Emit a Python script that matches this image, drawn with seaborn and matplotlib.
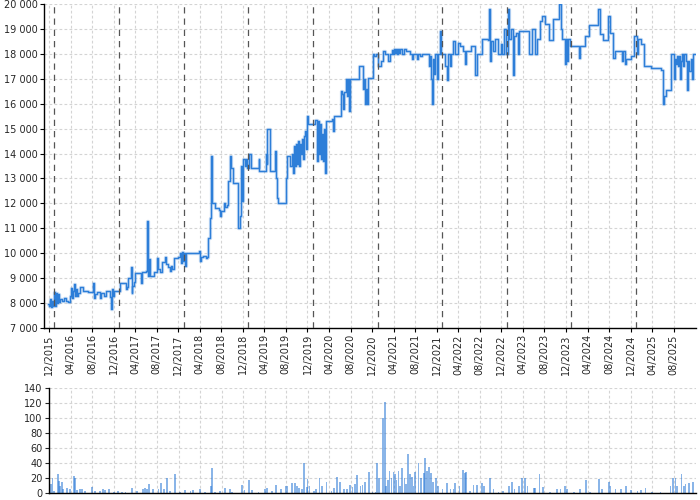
import matplotlib

matplotlib.use("Agg")
import matplotlib.pyplot as plt
import matplotlib.ticker as mticker
import numpy as np
import pandas as pd
import seaborn as sns

# Price history (step series).
price_dates = [
    "2015-11-27", "2015-12-01", "2015-12-07", "2015-12-12", "2015-12-18", "2015-12-23",
    "2016-01-01", "2016-01-04", "2016-01-09", "2016-01-15", "2016-01-20", "2016-01-26",
    "2016-02-01", "2016-02-12", "2016-02-23", "2016-03-06", "2016-03-17", "2016-03-28",
    "2016-04-03", "2016-04-09", "2016-04-14", "2016-04-20", "2016-04-25", "2016-05-01",
    "2016-05-06", "2016-05-12", "2016-05-23", "2016-06-09", "2016-07-07", "2016-08-06",
    "2016-08-09", "2016-08-17", "2016-08-28", "2016-09-14", "2016-09-19", "2016-10-07",
    "2016-10-18", "2016-11-12", "2016-11-15", "2016-11-20", "2016-11-26", "2016-12-02",
    "2017-01-06", "2017-02-04", "2017-02-09", "2017-02-15", "2017-02-20", "2017-03-09",
    "2017-03-12", "2017-03-14", "2017-03-26", "2017-03-31", "2017-04-29", "2017-05-04",
    "2017-05-10", "2017-06-01", "2017-06-07", "2017-06-10", "2017-06-12", "2017-06-18",
    "2017-06-23", "2017-07-16", "2017-08-02", "2017-08-08", "2017-08-19", "2017-08-30",
    "2017-09-16", "2017-09-22", "2017-10-03", "2017-10-14", "2017-10-20", "2017-10-25",
    "2017-11-06", "2017-11-28", "2017-12-10", "2017-12-15", "2017-12-21", "2017-12-26",
    "2018-01-03", "2018-01-08", "2018-01-14", "2018-03-28", "2018-04-02", "2018-04-08",
    "2018-04-19", "2018-05-06", "2018-05-11", "2018-05-17", "2018-05-28", "2018-06-03",
    "2018-06-08", "2018-06-25", "2018-07-18", "2018-07-23", "2018-07-29", "2018-08-15",
    "2018-08-21", "2018-09-02", "2018-09-10", "2018-09-19", "2018-09-24", "2018-10-06",
    "2018-11-06", "2018-11-14", "2018-11-20", "2018-11-25", "2018-12-02", "2018-12-13",
    "2018-12-19", "2018-12-24", "2019-01-05", "2019-01-16", "2019-02-28", "2019-03-02",
    "2019-04-11", "2019-04-16", "2019-04-19", "2019-04-30", "2019-05-02", "2019-05-31",
    "2019-06-06", "2019-06-12", "2019-06-17", "2019-08-02", "2019-08-07", "2019-08-27",
    "2019-09-05", "2019-09-10", "2019-09-16", "2019-09-22", "2019-09-27", "2019-10-03",
    "2019-10-08", "2019-10-14", "2019-10-19", "2019-10-25", "2019-10-30", "2019-11-06",
    "2019-11-11", "2019-11-17", "2019-11-22", "2019-11-28", "2019-12-05", "2020-01-14",
    "2020-01-25", "2020-02-01", "2020-02-06", "2020-02-12", "2020-02-17", "2020-02-23",
    "2020-02-28", "2020-03-05", "2020-03-11", "2020-03-17", "2020-04-20", "2020-04-26",
    "2020-05-01", "2020-06-06", "2020-06-15", "2020-06-20", "2020-06-26", "2020-07-07",
    "2020-07-12", "2020-07-18", "2020-07-23", "2020-07-29", "2020-09-15", "2020-10-06",
    "2020-10-11", "2020-10-16", "2020-10-22", "2020-10-28", "2020-11-03", "2020-11-08",
    "2020-12-04", "2020-12-12", "2020-12-23", "2021-01-05", "2021-01-22", "2021-02-02",
    "2021-02-13", "2021-03-02", "2021-03-13", "2021-03-24", "2021-03-30", "2021-04-04",
    "2021-04-10", "2021-04-15", "2021-04-21", "2021-04-26", "2021-05-02", "2021-05-07",
    "2021-05-18", "2021-05-29", "2021-06-10", "2021-07-02", "2021-07-13", "2021-07-19",
    "2021-08-11", "2021-08-16", "2021-08-27", "2021-09-09", "2021-10-18", "2021-10-24",
    "2021-10-29", "2021-11-05", "2021-11-10", "2021-11-16", "2021-11-21", "2021-12-03",
    "2021-12-08", "2021-12-20", "2021-12-25", "2022-01-19", "2022-01-25", "2022-02-01",
    "2022-02-12", "2022-02-17", "2022-03-05", "2022-03-16", "2022-04-01", "2022-04-12",
    "2022-04-29", "2022-05-10", "2022-05-16", "2022-06-13", "2022-07-06", "2022-07-17",
    "2022-08-15", "2022-09-17", "2022-09-23", "2022-09-28", "2022-10-04", "2022-10-15",
    "2022-10-26", "2022-11-12", "2022-11-29", "2022-12-06", "2022-12-17", "2022-12-28",
    "2023-01-10", "2023-01-15", "2023-01-26", "2023-02-07", "2023-02-12", "2023-02-23",
    "2023-03-07", "2023-03-12", "2023-05-07", "2023-05-24", "2023-06-10", "2023-06-21",
    "2023-07-08", "2023-07-19", "2023-08-05", "2023-08-28", "2023-09-19", "2023-10-23",
    "2023-11-02", "2023-11-10", "2023-11-27", "2023-12-02", "2023-12-07", "2023-12-13",
    "2023-12-24", "2024-02-15", "2024-02-20", "2024-03-19", "2024-04-11", "2024-06-01",
    "2024-06-12", "2024-06-30", "2024-07-28", "2024-08-08", "2024-08-25", "2024-09-06",
    "2024-10-15", "2024-10-21", "2024-11-01", "2024-11-07", "2024-12-01", "2024-12-17",
    "2025-01-04", "2025-01-10", "2025-01-26", "2025-02-12", "2025-03-25", "2025-05-20",
    "2025-06-01", "2025-06-09", "2025-06-17", "2025-07-16", "2025-07-18", "2025-08-01",
    "2025-08-07", "2025-08-13", "2025-08-18", "2025-08-24", "2025-08-30", "2025-09-04",
    "2025-09-10", "2025-09-15", "2025-09-21", "2025-09-26", "2025-10-08", "2025-10-13",
    "2025-10-19", "2025-10-24", "2025-11-05", "2025-11-10", "2025-11-16", "2025-11-28",
]
price_values = [
    7950, 7900, 8150, 7850, 8100, 7900,
    8450, 7900, 8400, 8000, 8350, 8050,
    8150, 8100, 8200, 8100, 8050, 8300,
    8600, 8200, 8500, 8750, 8300, 8550,
    8300, 8400, 8650, 8500, 8450, 8800,
    8200, 8350, 8450, 8200, 8400, 8300,
    8500, 8250, 7750, 8550, 8300, 8500,
    8800, 8800, 8550, 8650, 9000, 9450,
    8400, 8700, 8850, 9200, 9200, 8800,
    9250, 9300, 11300, 9700, 9100, 9750,
    9100, 9250, 9800, 9350, 9250, 9650,
    9850, 9550, 9450, 9300, 9500, 9350,
    9800, 9850, 10000, 9600, 10050, 9700,
    10000, 9500, 10000, 10100, 9700, 9850,
    9900, 9800, 9850, 10600, 11400, 13900,
    12000, 11800, 11750, 11500, 11700, 12000,
    11850, 11950, 12900, 13900, 13400, 12800,
    11000, 11500, 13500, 12100, 13800, 13500,
    13800, 13400, 14000, 13400, 13800, 13300,
    14000, 13600, 15000, 15000, 13300, 14100,
    13000, 12200, 12000, 13000, 13900, 13500,
    14000, 13200, 14300, 13500, 14400, 13600,
    14500, 13500, 14400, 14000, 14600, 13800,
    14700, 14900, 14200, 15500, 15200, 15350,
    13700, 15300, 14000, 15200, 13800, 14800,
    13700, 15000, 13200, 15300, 15400, 14900,
    15500, 16500, 16400, 15800, 16450, 17000,
    16300, 17000, 15700, 17000, 17500, 17500,
    16600, 17000, 16000, 16600, 16000, 17050,
    18000, 17900, 18000, 17500, 17700, 18100,
    18000, 17700, 18000, 18150, 18000, 18200,
    18050, 18200, 18000, 18200, 18050, 18200,
    18000, 18200, 18100, 18000, 17800, 18000,
    17800, 18000, 17900, 18000, 17500, 17900,
    17000, 16000, 17800, 17200, 18000, 17000,
    18000, 18900, 18000, 17500, 16950, 18000,
    17500, 18000, 18500, 18000, 18450, 18300,
    18100, 17600, 18100, 18300, 17150, 18000,
    18600, 18550, 19800, 17700, 18500, 18100,
    18600, 18000, 18400, 18000, 19000, 18000,
    19800, 18600, 19000, 17150, 18700, 18850,
    18000, 18900, 18000, 19000, 18000, 18600,
    19300, 19500, 19200, 18550, 19400, 20000,
    19000, 18600, 17600, 18600, 17700, 18600,
    18300, 17850, 18300, 18700, 19150, 19800,
    18800, 18550, 19500, 18850, 17850, 18100,
    17700, 18100, 17600, 17800, 17900, 18700,
    18000, 18600, 18400, 17500, 17450, 17350,
    16000, 16300, 16550, 16700, 18000, 17000,
    17800, 17600, 17900, 17500, 17900, 17000,
    17700, 18000, 17500, 18000, 17700, 16550,
    17700, 17300, 17800, 17000, 18000, 18000,
]

# Traded volume.
volume_dates = [
    "2015-12-10", "2015-12-19", "2015-12-29", "2016-01-17", "2016-01-25", "2016-02-01",
    "2016-02-10", "2016-02-17", "2016-03-09", "2016-03-28", "2016-04-20", "2016-04-24",
    "2016-05-06", "2016-05-23", "2016-06-04", "2016-06-20", "2016-07-29", "2016-08-17",
    "2016-09-14", "2016-10-01", "2016-10-12", "2016-11-04", "2016-12-02", "2016-12-25",
    "2017-01-17", "2017-02-04", "2017-03-12", "2017-04-08", "2017-05-15", "2017-05-24",
    "2017-06-05", "2017-06-18", "2017-07-08", "2017-08-09", "2017-08-22", "2017-09-10",
    "2017-09-25", "2017-10-14", "2017-11-11", "2017-12-10", "2018-01-08", "2018-02-06",
    "2018-02-22", "2018-03-30", "2018-05-01", "2018-06-02", "2018-06-08", "2018-06-26",
    "2018-07-24", "2018-08-21", "2018-09-19", "2018-09-30", "2018-11-24", "2018-12-09",
    "2019-01-03", "2019-01-20", "2019-02-26", "2019-04-05", "2019-04-17", "2019-05-14",
    "2019-06-05", "2019-07-02", "2019-07-28", "2019-08-04", "2019-09-02", "2019-09-19",
    "2019-09-30", "2019-10-15", "2019-10-29", "2019-11-11", "2019-11-26", "2019-11-30",
    "2019-12-11", "2020-01-07", "2020-01-18", "2020-02-06", "2020-02-19", "2020-03-17",
    "2020-04-13", "2020-04-26", "2020-05-15", "2020-05-30", "2020-06-22", "2020-07-10",
    "2020-07-29", "2020-08-10", "2020-08-26", "2020-09-07", "2020-09-24", "2020-10-06",
    "2020-10-22", "2020-11-12", "2020-12-01", "2020-12-18", "2020-12-27", "2021-01-06",
    "2021-01-28", "2021-02-11", "2021-02-18", "2021-02-27", "2021-03-08", "2021-03-19",
    "2021-03-30", "2021-04-07", "2021-04-16", "2021-04-27", "2021-05-08", "2021-05-18",
    "2021-05-31", "2021-06-08", "2021-06-22", "2021-07-03", "2021-07-13", "2021-07-22",
    "2021-08-01", "2021-08-19", "2021-09-03", "2021-09-17", "2021-09-26", "2021-10-06",
    "2021-10-17", "2021-10-28", "2021-11-10", "2021-11-27", "2021-12-08", "2022-01-01",
    "2022-01-27", "2022-02-15", "2022-03-04", "2022-03-15", "2022-04-08", "2022-04-27",
    "2022-05-10", "2022-05-16", "2022-06-07", "2022-06-26", "2022-07-17", "2022-08-13",
    "2022-08-26", "2022-09-28", "2022-10-17", "2022-11-14", "2022-12-10", "2023-01-11",
    "2023-01-31", "2023-02-13", "2023-03-08", "2023-03-27", "2023-04-15", "2023-04-27",
    "2023-06-01", "2023-06-10", "2023-07-04", "2023-07-23", "2023-09-01", "2023-10-12",
    "2023-10-31", "2023-11-24", "2023-12-07", "2024-01-15", "2024-02-20", "2024-03-23",
    "2024-04-16", "2024-06-03", "2024-06-21", "2024-07-29", "2024-08-08", "2024-09-06",
    "2024-10-09", "2024-11-02", "2024-12-01", "2025-01-08", "2025-01-26", "2025-02-23",
    "2025-04-01", "2025-05-18", "2025-07-14", "2025-07-27", "2025-08-11", "2025-08-21",
    "2025-09-14", "2025-09-27", "2025-10-07", "2025-10-25", "2025-11-20",
]
volume_values = [
    12, 20, 3, 26, 16, 10,
    15, 5, 7, 5, 23, 20,
    4, 5, 6, 3, 8, 3,
    3, 5, 4, 6, 2, 3,
    2, 2, 7, 3, 5, 7,
    6, 12, 6, 5, 13, 6,
    20, 3, 25, 2, 4, 3,
    4, 5, 2, 9, 33, 2,
    3, 7, 5, 2, 11, 4,
    17, 4, 2, 5, 7, 3,
    11, 5, 10, 10, 14, 14,
    10, 7, 5, 40, 8, 19,
    10, 3, 5, 20, 9, 15,
    3, 7, 21, 15, 5, 5,
    11, 8, 12, 24, 10, 11,
    15, 28, 2, 2, 40, 20,
    100, 122, 10, 18, 30, 20,
    28, 25, 18, 30, 10, 33,
    20, 12, 52, 25, 22, 10,
    28, 40, 20, 27, 47, 30,
    35, 27, 15, 20, 10, 5,
    13, 6, 6, 13, 10, 31,
    27, 28, 3, 11, 11, 14,
    10, 20, 5, 2, 3, 9,
    15, 5, 10, 20, 20, 9,
    7, 7, 25, 8, 1, 5,
    5, 9, 5, 2, 6, 18,
    2, 19, 5, 15, 10, 5,
    6, 10, 4, 3, 4, 7,
    2, 2, 9, 20, 20, 10,
    25, 10, 12, 13, 15,
]

year_marks = [
    "2016-01-01", "2017-01-01", "2018-01-01", "2019-01-01", "2020-01-01",
    "2021-01-01", "2022-01-01", "2023-01-01", "2024-01-01", "2025-01-01",
]

line_color = "#2d7ed8"
bar_color = "#2a78d6"
grid_kws = dict(color="#d4d4d4", linestyle=(0, (2.5, 2)), linewidth=0.8)

sns.set_theme(style="ticks")
plt.rcParams["font.family"] = ["DejaVu Sans"]

price_df = pd.DataFrame(
    {"date": pd.to_datetime(price_dates), "price": price_values}
)
volume_df = pd.DataFrame(
    {"date": pd.to_datetime(volume_dates), "volume": volume_values}
)
tick_dates = pd.date_range("2015-12-01", "2025-08-01", freq="4MS")

fig = plt.figure(figsize=(7, 5), dpi=100)
ax = fig.add_axes([44 / 700, 1 - 328 / 500, 652 / 700, 324 / 500])
ax_vol = fig.add_axes([49 / 700, 1 - 493 / 500, 647 / 700, 105 / 500])

# Main price line, with a faint halo underneath.
sns.lineplot(
    data=price_df, x="date", y="price", ax=ax, color=line_color,
    linewidth=2.4, alpha=0.22, drawstyle="steps-post", estimator=None,
)
sns.lineplot(
    data=price_df, x="date", y="price", ax=ax, color=line_color,
    linewidth=1.05, drawstyle="steps-post", estimator=None,
)
for yd in year_marks:
    ax.axvline(pd.Timestamp(yd), color="#555555", linestyle=(0, (5, 4)),
               linewidth=0.9, zorder=3)

ax.set_xlim(pd.Timestamp("2015-11-03"), pd.Timestamp("2025-12-05"))
ax.set_ylim(7000, 20000)
ax.set_yticks(np.arange(7000, 20001, 1000))
ax.yaxis.set_major_formatter(
    mticker.FuncFormatter(lambda v, p: "{:,.0f}".format(v).replace(",", " "))
)
ax.set_xticks(tick_dates)
ax.set_xticklabels([d.strftime("%m/%Y") for d in tick_dates], rotation=90)
ax.grid(True, **grid_kws)
ax.set_axisbelow(True)
ax.set_xlabel("")
ax.set_ylabel("")
ax.tick_params(axis="both", labelsize=7, length=3, width=0.8, color="#000000",
               pad=1.5)
for side in ["top", "right"]:
    ax.spines[side].set_visible(False)
for side in ["left", "bottom"]:
    ax.spines[side].set_color("#000000")
    ax.spines[side].set_linewidth(1)

# Volume bars.
ax_vol.bar(volume_df["date"], volume_df["volume"], width=10, color=bar_color,
           alpha=0.55, linewidth=0)
ax_vol.set_xlim(pd.Timestamp("2015-11-29"), pd.Timestamp("2025-12-05"))
ax_vol.set_ylim(0, 140)
ax_vol.set_yticks(np.arange(0, 141, 20))
ax_vol.set_xticks(tick_dates)
ax_vol.tick_params(axis="x", length=0, labelbottom=False)
ax_vol.tick_params(axis="y", labelsize=7, length=3, width=0.8, pad=1.5)
ax_vol.grid(True, **grid_kws)
ax_vol.set_axisbelow(True)
for side in ["top", "right"]:
    ax_vol.spines[side].set_visible(False)
for side in ["left", "bottom"]:
    ax_vol.spines[side].set_color("#000000")
    ax_vol.spines[side].set_linewidth(1)

fig.savefig("out.png", dpi=100)
plt.close()
